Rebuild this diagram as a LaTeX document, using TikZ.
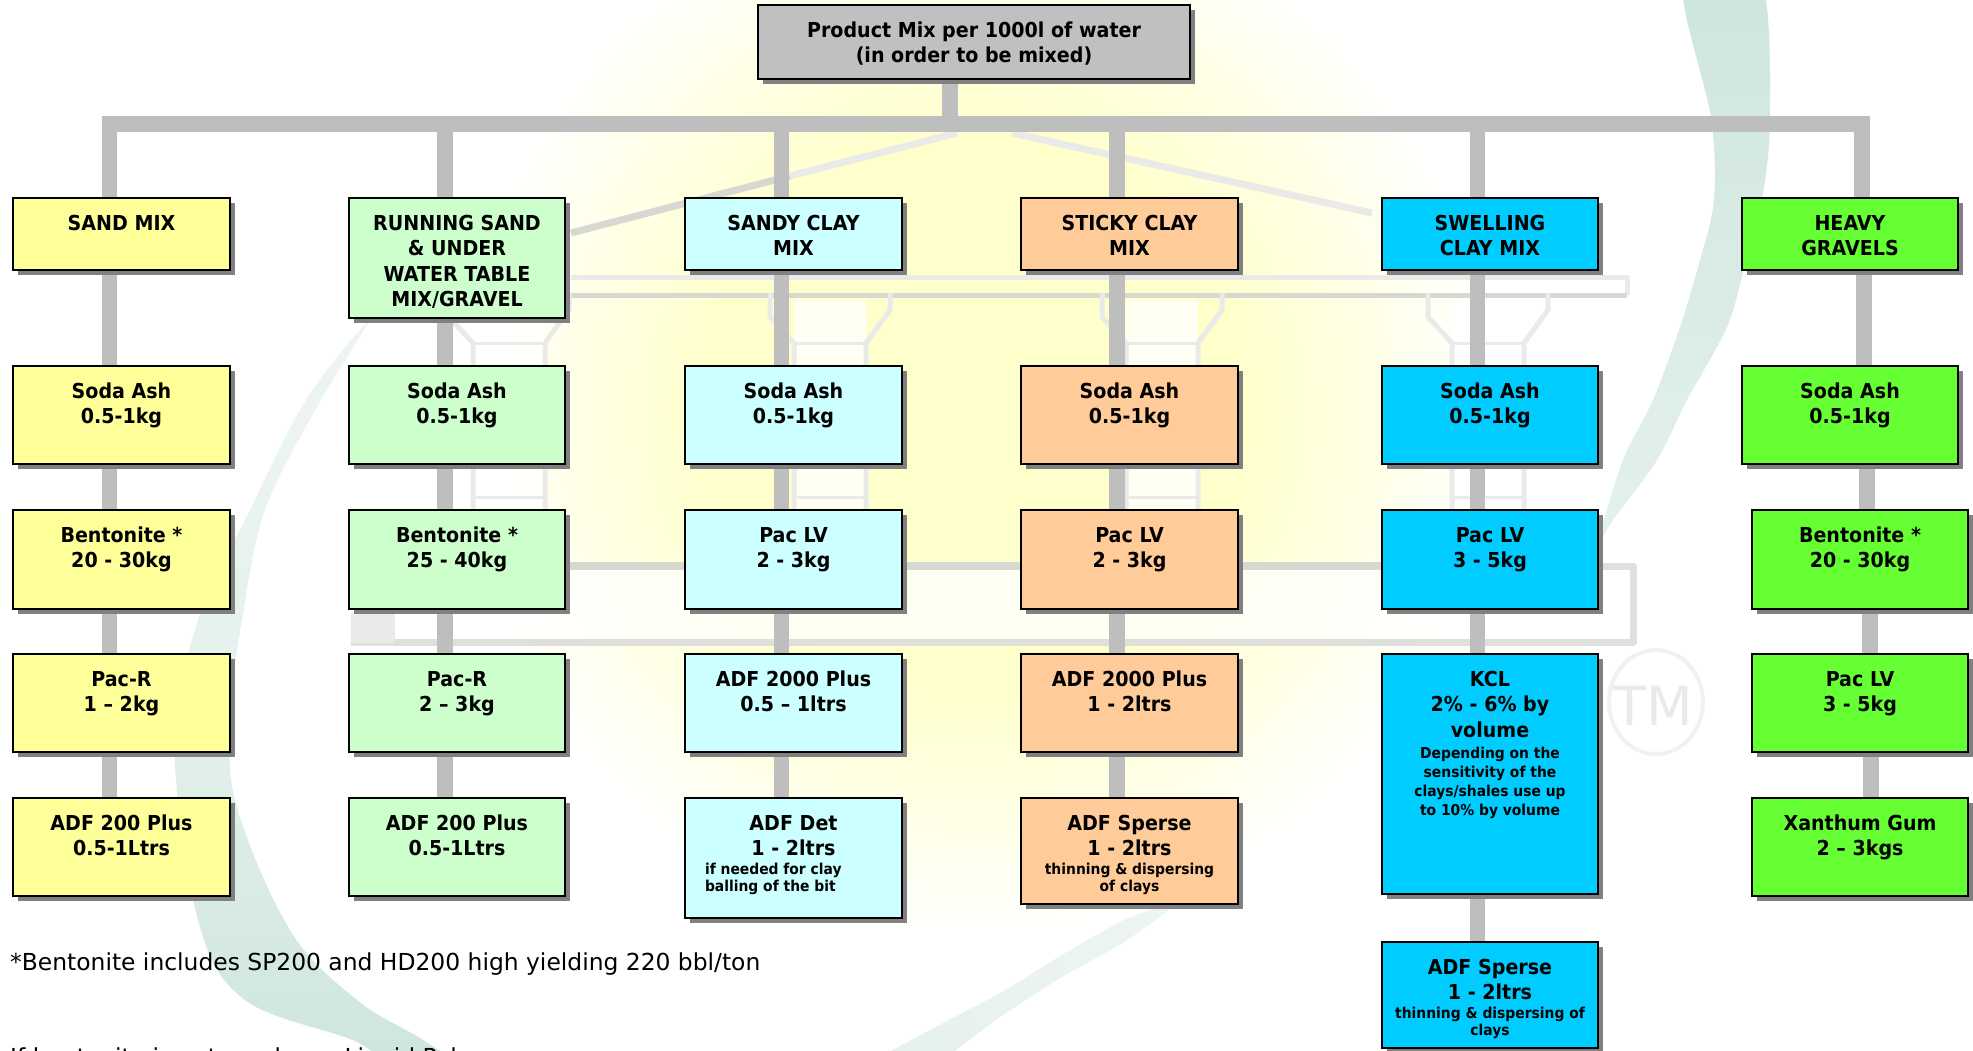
\documentclass[tikz,border=0pt]{standalone}
\usepackage{fontspec}
\usetikzlibrary{shadows}
\setmainfont[FakeStretch=0.925]{DejaVu Sans}
\newfontfamily\tah{DejaVu Sans}
\definecolor{cYel}{HTML}{FFFF99}
\definecolor{cPale}{HTML}{CCFFCC}
\definecolor{cCya}{HTML}{CCFFFF}
\definecolor{cOra}{HTML}{FFCC99}
\definecolor{cBlu}{HTML}{00CCFF}
\definecolor{cGrn}{HTML}{66FF33}
\definecolor{cTit}{HTML}{C0C0C0}
\definecolor{cLink}{HTML}{BEBEBE}
\definecolor{cShad}{HTML}{808080}
\definecolor{wmGreen}{HTML}{CDE5DC}
\definecolor{wmGreenB}{HTML}{E4F1EC}
\definecolor{wmTop}{HTML}{EEF5F2}
\definecolor{wmA}{HTML}{D8D8D2}
\definecolor{wmB}{HTML}{EAEAE8}
\definecolor{wmC}{HTML}{F1F1F0}
\definecolor{wmD}{HTML}{DFDFDC}
\pgfdeclareradialshading{glow}{\pgfpoint{0bp}{0bp}}{rgb(0bp)=(1,1,0.8); rgb(13bp)=(1,1,0.8); rgb(25bp)=(1,1,1); rgb(50bp)=(1,1,1)}
\pgfdeclarelayer{behind}
\pgfsetlayers{behind,main}
\newcommand{\bigtxt}{\fontsize{20.6}{25.5}\selectfont\bfseries\lineskiplimit=-1000pt }
% name, x0, y0, x1, y1, fill, text
\newcommand{\cell}[7]{%
  \node[cellbox,fill=#6] (#1) at ({(#2+#4)/2},{(#3+#5)/2})
   {\parbox[c][\dimexpr#5pt-#3pt\relax][t]{\dimexpr#4pt-#2pt\relax}{\centering\bigtxt\rule{0pt}{32pt}#7\par}};}
\newcommand{\smalltxt}[1]{{\fontsize{15}{19}\selectfont #1\par}}
% from, to, xshift at from, xshift at to
\newcommand{\lnk}[4]{\draw[linkline] ([xshift=#3pt]#1.south) -- ([xshift=#4pt]#2.north);}
\tikzset{
  cellbox/.style={draw=black,line width=1.3pt,inner sep=0pt,outer sep=0pt,
    drop shadow={shadow xshift=5pt,shadow yshift=-5pt,fill=cShad,opacity=1}},
  linkline/.style={draw=cLink,line width=15.5pt},
  wmline/.style={draw=wmA,line width=5pt,line join=round},
  wmlight/.style={draw=wmB,line width=5pt,line join=round},
  footnote/.style={anchor=base west,inner sep=0pt,font=\tah\fontsize{23.4}{27}\selectfont}
}
\begin{document}
\begin{tikzpicture}[x=1pt,y=-1pt]
\useasboundingbox (0,0) rectangle (1973,1050);
\begin{pgfonlayer}{behind}
\begin{scope}
\clip (0,0) rectangle (1973,1050);
\fill[white] (0,0) rectangle (1973,1050);
% watermark: glow
\shade[shading=glow] (975,410) ellipse [x radius=520,y radius=530];
% watermark: green swooshes
\shade[top color=wmTop,bottom color=wmGreen,middle color=wmGreenB] plot[smooth cycle,tension=.6] coordinates {(368,322) (306,400) (250,510) (198,620) (175,750) (198,920) (245,1000) (357,1042) (400,1075) (470,1075) (423,1040) (357,1000) (290,930) (235,800) (232,700) (242,620) (265,510) (318,405)};
\shade[top color=wmGreen,bottom color=wmGreenB] plot[smooth cycle,tension=.5] coordinates {(1683,-20) (1711,117) (1714,200) (1700,260) (1680,327) (1653,400) (1623,460) (1598,542) (1613,520) (1657,460) (1687,400) (1727,327) (1745,265) (1762,200) (1770,117) (1760,-20)};
\shade[left color=wmGreenB,right color=wmTop] plot[smooth cycle,tension=.4] coordinates {(1178,902) (1124,920) (1062,955) (1000,993) (930,1030) (861,1070) (925,1070) (1000,1017) (1062,977) (1124,942)};
% watermark: temple
\draw[wmline,line width=7pt] (571,233) -- (790,176);
\draw[wmlight,line width=7pt] (790,176) -- (957,133);
\draw[wmlight,line width=7pt] (1012,133) -- (1372,213);
\draw[wmlight] (571,277) -- (1627,277) -- (1627,295);
\draw[wmline] (571,295) -- (1627,295);
\foreach \c in {509,830,1162,1488}{
  \fill[white,opacity=.8] (\c-36,300) rectangle (\c+36,510);
  \draw[wmlight,line width=5pt] (\c-60,293) -- (\c-60,317) -- (\c-36,343) -- (\c-36,510);
  \draw[wmlight,line width=5pt] (\c+60,293) -- (\c+60,310) -- (\c+36,343) -- (\c+36,510);
  \draw[wmlight,line width=3pt] (\c-36,343) -- (\c+36,343) (\c-36,497) -- (\c+36,497);
}
\fill[white,opacity=.75] (355,568) rectangle (1630,640);
\draw[wmline,line width=8pt] (565,566) -- (1400,566);
\draw[wmD,line width=7pt,line join=round] (1400,566) -- (1633,566) -- (1633,642) -- (351,642);
\fill[wmB] (351,613) rectangle (395,643);
% watermark: trademark
\draw[wmC,line width=4pt] (1656,702) ellipse [x radius=47,y radius=52];
\node[text=wmB,inner sep=0pt,font=\tah\fontsize{54}{58}\selectfont] (tm) at (1653,706) {TM};
\end{scope}
\end{pgfonlayer}

% title
\cell{title}{758}{5}{1190}{79}{cTit}{Product Mix per 1000l of water\\(in order to be mixed)}

% column 1
\cell{a0}{13}{198}{230}{270}{cYel}{SAND MIX}
\cell{a1}{13}{366}{230}{464}{cYel}{Soda Ash\\0.5-1kg}
\cell{a2}{13}{510}{230}{609}{cYel}{Bentonite *\\20 - 30kg}
\cell{a3}{13}{654}{230}{752}{cYel}{Pac-R\\1 – 2kg}
\cell{a4}{13}{798}{230}{896}{cYel}{ADF 200 Plus\\0.5-1Ltrs}
% column 2
\cell{b0}{349}{198}{565}{318}{cPale}{RUNNING SAND\\\&\ UNDER\\WATER TABLE\\MIX/GRAVEL}
\cell{b1}{349}{366}{565}{464}{cPale}{Soda Ash\\0.5-1kg}
\cell{b2}{349}{510}{565}{609}{cPale}{Bentonite *\\25 - 40kg}
\cell{b3}{349}{654}{565}{752}{cPale}{Pac-R\\2 – 3kg}
\cell{b4}{349}{798}{565}{896}{cPale}{ADF 200 Plus\\0.5-1Ltrs}
% column 3
\cell{c0}{685}{198}{902}{270}{cCya}{SANDY CLAY\\MIX}
\cell{c1}{685}{366}{902}{464}{cCya}{Soda Ash\\0.5-1kg}
\cell{c2}{685}{510}{902}{609}{cCya}{Pac LV\\2 - 3kg}
\cell{c3}{685}{654}{902}{752}{cCya}{ADF 2000 Plus\\0.5 – 1ltrs}
\cell{c4}{685}{798}{902}{918}{cCya}{ADF Det\\1 - 2ltrs\par\smalltxt{\raggedright\hspace*{20pt}if needed for clay\\[-2pt]\hspace*{20pt}balling of the bit}}
% column 4
\cell{d0}{1021}{198}{1238}{270}{cOra}{STICKY CLAY\\MIX}
\cell{d1}{1021}{366}{1238}{464}{cOra}{Soda Ash\\0.5-1kg}
\cell{d2}{1021}{510}{1238}{609}{cOra}{Pac LV\\2 - 3kg}
\cell{d3}{1021}{654}{1238}{752}{cOra}{ADF 2000 Plus\\1 - 2ltrs}
\cell{d4}{1021}{798}{1238}{904}{cOra}{ADF Sperse\\1 - 2ltrs\par\smalltxt{thinning \&\ dispersing\\[-2pt]of clays}}
% column 5
\cell{e0}{1382}{198}{1598}{270}{cBlu}{SWELLING\\CLAY MIX}
\cell{e1}{1382}{366}{1598}{464}{cBlu}{Soda Ash\\0.5-1kg}
\cell{e2}{1382}{510}{1598}{609}{cBlu}{Pac LV\\3 - 5kg}
\cell{e3}{1382}{654}{1598}{894}{cBlu}{KCL\\2\%\ - 6\%\ by\\volume\par{\fontsize{15}{21}\selectfont Depending on the\\[-2pt]sensitivity of the\\[-2pt]clays/shales use up\\[-2pt]to 10\%\ by volume\par}}
\cell{e4}{1382}{942}{1598}{1048}{cBlu}{ADF Sperse\\1 - 2ltrs\par\smalltxt{thinning \&\ dispersing of\\[-2pt]clays}}
% column 6
\cell{f0}{1742}{198}{1958}{270}{cGrn}{HEAVY\\GRAVELS}
\cell{f1}{1742}{366}{1958}{464}{cGrn}{Soda Ash\\0.5-1kg}
\cell{f2}{1752}{510}{1968}{609}{cGrn}{Bentonite *\\20 - 30kg}
\cell{f3}{1752}{654}{1968}{752}{cGrn}{Pac LV\\3 - 5kg}
\cell{f4}{1752}{798}{1968}{896}{cGrn}{Xanthum Gum\\2 – 3kgs}

% bus anchors
\coordinate (trunk) at (949.5,124);
\coordinate (busA) at (109.5,124);
\coordinate (busB) at (445,124);
\coordinate (busC) at (781.5,124);
\coordinate (busD) at (1117,124);
\coordinate (busE) at (1477.5,124);
\coordinate (busF) at (1862,124);

\begin{pgfonlayer}{behind}
\draw[linkline,line width=16pt] (title.south -| trunk) -- (trunk);
\draw[linkline,line width=16pt,line cap=rect] (busA) -- (busF);
\foreach \n/\m in {busA/a0,busB/b0,busC/c0,busD/d0,busE/e0,busF/f0}
  \draw[linkline] (\n) -- (\n |- \m.north);
\foreach \p in {a,b,c}{
  \lnk{\p0}{\p1}{-12}{-12}
  \lnk{\p1}{\p2}{-12}{-12}
  \lnk{\p2}{\p3}{-12}{-12}
  \lnk{\p3}{\p4}{-12}{-12}
}
\foreach \p in {d,e}{
  \lnk{\p0}{\p1}{-12.5}{-12.5}
  \lnk{\p1}{\p2}{-12.5}{-12.5}
  \lnk{\p2}{\p3}{-12.5}{-12.5}
  \lnk{\p3}{\p4}{-12.5}{-12.5}
}
\lnk{f0}{f1}{14}{14}
\lnk{f1}{f2}{17}{7}
\lnk{f2}{f3}{10}{10}
\lnk{f3}{f4}{11}{11}
\end{pgfonlayer}

% footnotes
\node[footnote] (note1) at (10,970) {*Bentonite includes SP200 and HD200 high yielding 220 bbl/ton};
\begin{scope}
\clip (0,0) rectangle (1973,1050);
\node[footnote] (note2) at (10,1065) {If bentonite is not used, use Liquid Polymer};
\end{scope}
\end{tikzpicture}
\end{document}
